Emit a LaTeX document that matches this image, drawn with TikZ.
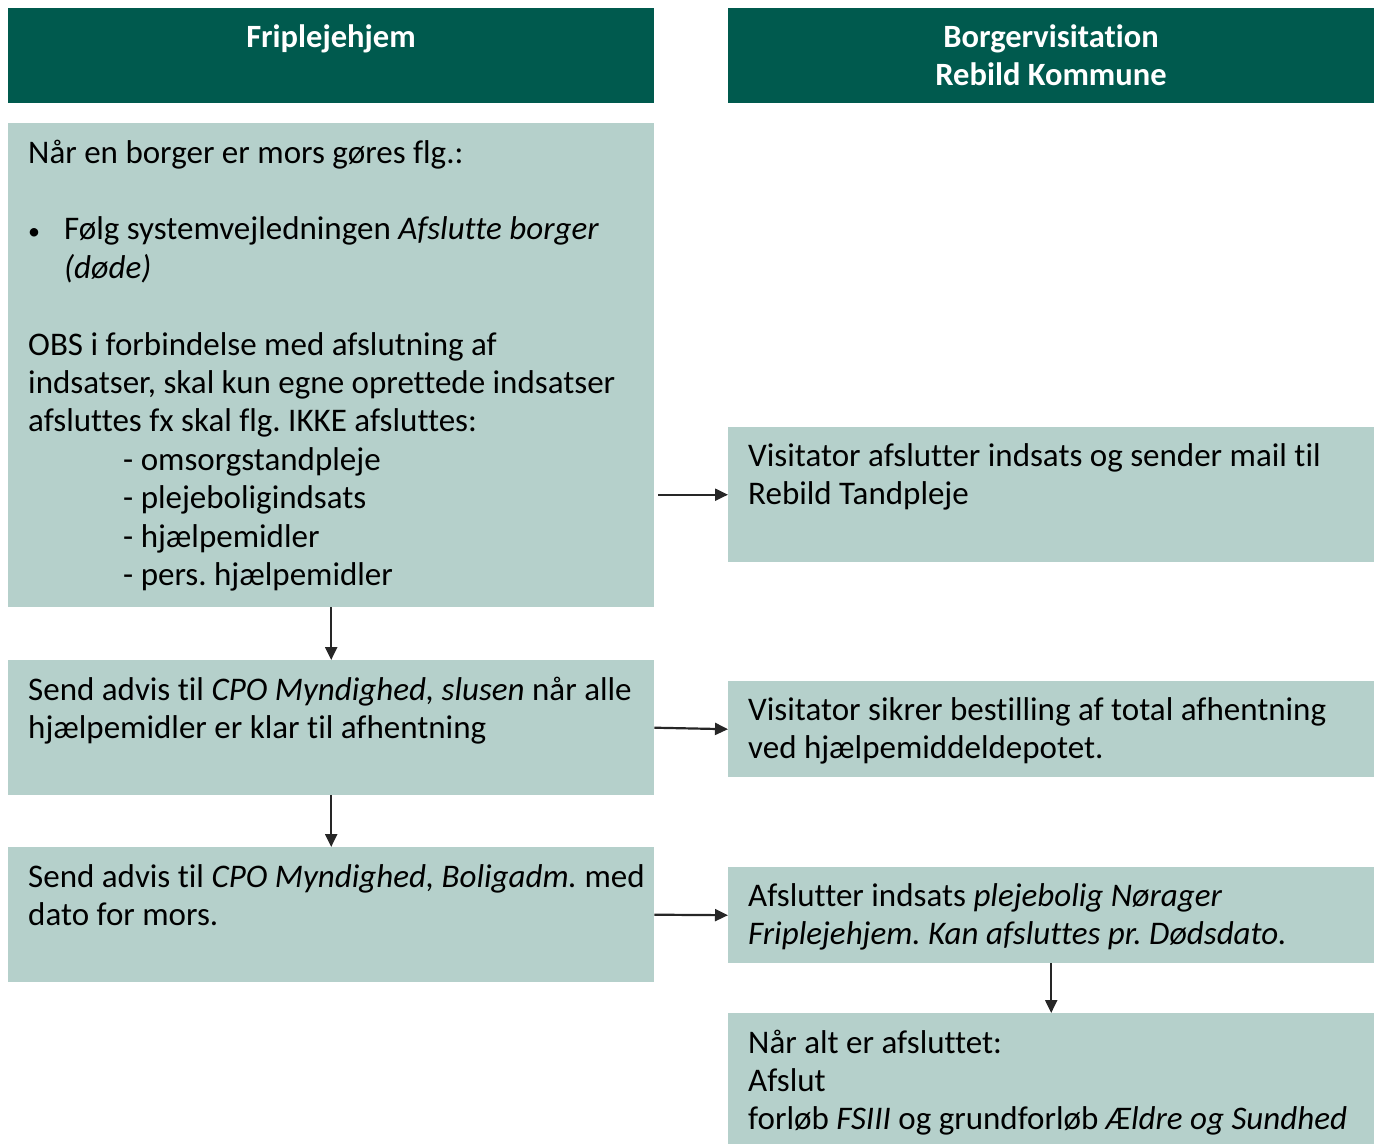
\documentclass[tikz,border=0pt]{standalone}
\usepackage{fontspec}
\setmainfont[Ligatures=NoCommon]{Carlito}
\usetikzlibrary{arrows.meta}
\frenchspacing
\definecolor{hdr}{HTML}{005A4E}
\definecolor{lite}{HTML}{B5D0CB}
\definecolor{arr}{HTML}{262626}
\tikzset{
  hbox/.style={fill=hdr, draw=none, inner sep=0pt},
  lbox/.style={fill=lite, draw=none, inner sep=0pt},
  txt/.style={anchor=north west, inner sep=0pt, align=left, font=\fontsize{33}{38.4}\selectfont\frenchspacing, text=black},
  htxt/.style={anchor=north, inner sep=0pt, align=center, font=\fontsize{32.5}{38.4}\selectfont\bfseries, text=white},
  conn/.style={draw=arr, line width=2.2pt, -{Triangle[length=13pt,width=12pt]}}
}
\begin{document}
\begin{tikzpicture}[x=1pt,y=-1pt]
\useasboundingbox (0,0) rectangle (1379,1144);
% boxes
\path[hbox] (8,8) rectangle (654,103);
\path[hbox] (728,8) rectangle (1374,103);
\node[lbox, minimum width=646pt, minimum height=484pt, anchor=north west] (b1) at (8,123) {};
\node[lbox, minimum width=646pt, minimum height=135pt, anchor=north west] (b2) at (8,660) {};
\node[lbox, minimum width=646pt, minimum height=135pt, anchor=north west] (b3) at (8,847) {};
\node[lbox, minimum width=646pt, minimum height=135pt, anchor=north west] (r1) at (728,427) {};
\node[lbox, minimum width=646pt, minimum height=96pt, anchor=north west] (r2) at (728,681) {};
\node[lbox, minimum width=646pt, minimum height=96pt, anchor=north west] (r3) at (728,867) {};
\node[lbox, minimum width=646pt, minimum height=131pt, anchor=north west] (r4) at (728,1013) {};
% headers
\node[htxt] (h1) at (331,20) {\strut Friplejehjem};
\node[htxt] (h2) at (1051,20) {\strut Borgervisitation\\Rebild Kommune};
% texts
\node[txt] (t1) at (28,136) {\strut Når en borger er mors gøres flg.:\\[38.4pt]
\makebox[36pt][l]{\fontsize{24}{24}\selectfont•}Følg systemvejledningen \textit{Afslutte borger}\\
\hspace*{36pt}\textit{(døde)}\\[38.4pt]
OBS i forbindelse med afslutning af\\
indsatser, skal kun egne oprettede indsatser\\
afsluttes fx skal flg. IKKE afsluttes:\\
\hspace*{95pt}- omsorgstandpleje\\
\hspace*{95pt}- plejeboligindsats\\
\hspace*{95pt}- hjælpemidler\\
\hspace*{95pt}- pers. hjælpemidler};
\node[txt] (t2) at (28,673) {\strut Send advis til \textit{CPO Myndighed, slusen} når alle\\hjælpemidler er klar til afhentning};
\node[txt] (t3) at (28,860) {\strut Send advis til \textit{CPO Myndighed, Boligadm.} med\\dato for mors.};
\node[txt] (t4) at (748,439) {\strut Visitator afslutter indsats og sender mail til\\Rebild Tandpleje};
\node[txt] (t5) at (748,693) {\strut Visitator sikrer bestilling af total afhentning\\ved hjælpemiddeldepotet.};
\node[txt] (t6) at (748,879) {\strut Afslutter indsats \textit{plejebolig Nørager}\\\textit{Friplejehjem. Kan afsluttes pr. Dødsdato.}};
\node[txt] (t7) at (748,1026) {\strut Når alt er afsluttet:\\Afslut\\forløb \textit{FSIII} og grundforløb \textit{Ældre og Sundhed}};
% connectors
\draw[conn] (b1.south) -- (b2.north);
\draw[conn] (b2.south) -- (b3.north);
\draw[conn] ([xshift=4pt]b1.east |- r1.west) -- (r1.west);
\draw[conn] (b2.east) -- (r2.west);
\draw[conn] (b3.east) -- (r3.west);
\draw[conn] (r3.south) -- (r4.north);
\end{tikzpicture}
\end{document}
